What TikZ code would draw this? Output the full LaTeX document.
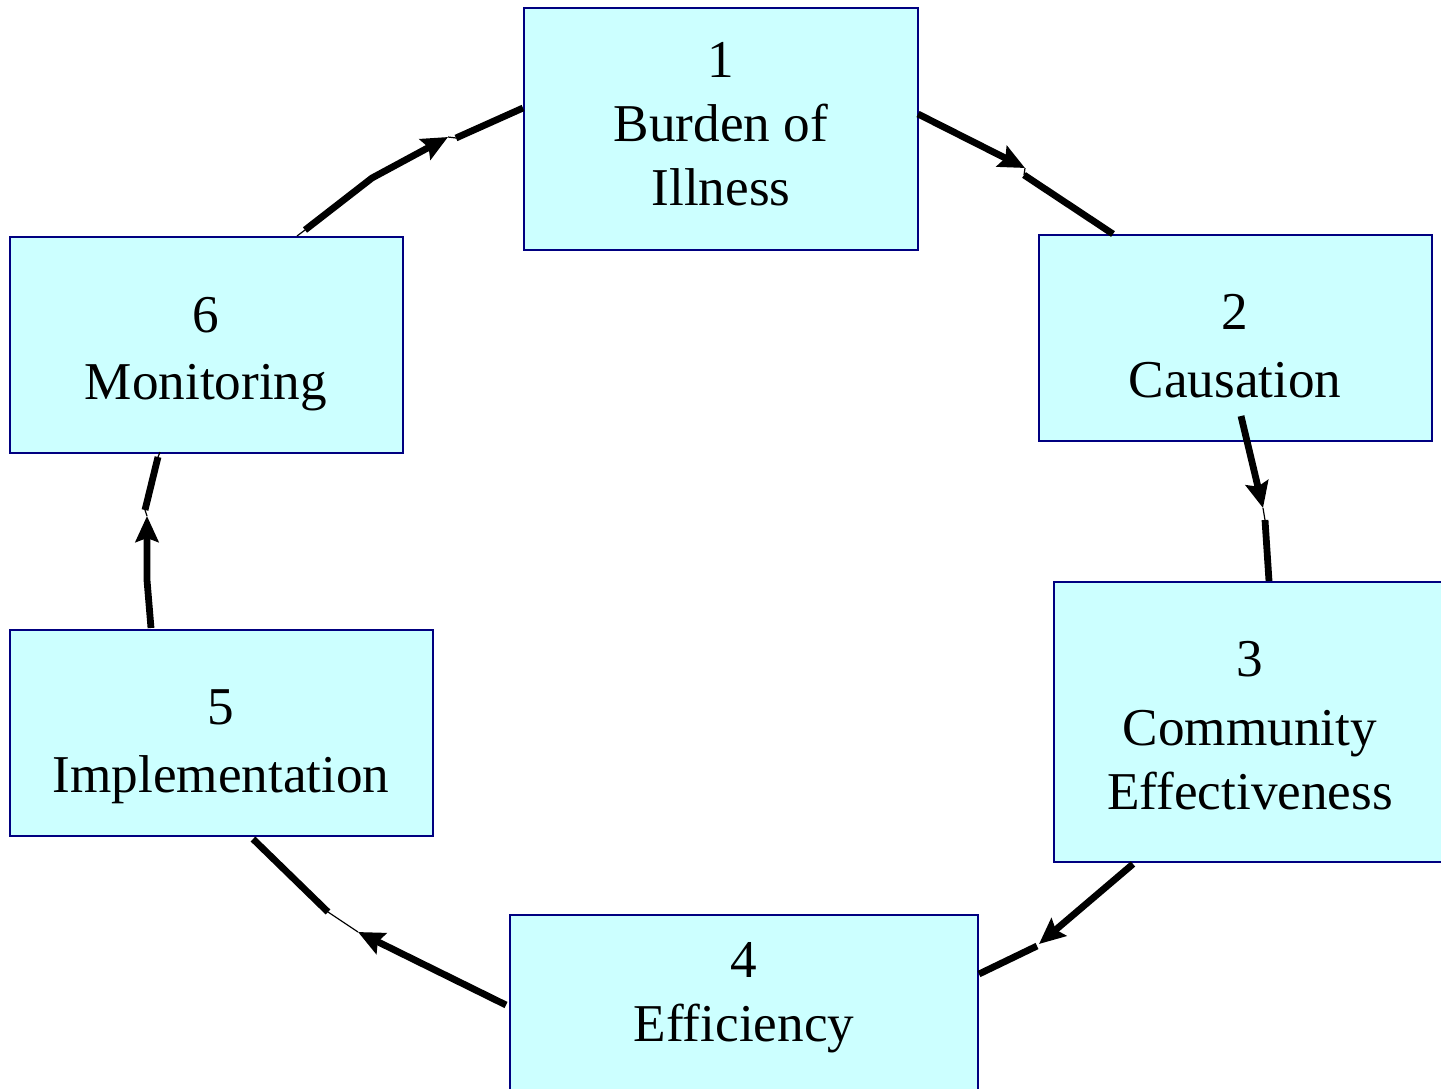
\documentclass[tikz,border=0pt]{standalone}
\usepackage{fontspec}
\setmainfont{Liberation Serif}
\usetikzlibrary{arrows.meta}
\definecolor{boxfill}{HTML}{CCFFFF}
\definecolor{boxline}{HTML}{000080}
\tikzset{
  box/.style={draw=boxline, fill=boxfill, line width=1pt, inner sep=0pt, rectangle},
  lbl/.style={anchor=base, inner sep=0pt, font=\fontsize{26.6}{32}\selectfont},
  flow/.style={line width=3.4pt, -{Stealth[length=13pt,width=11.5pt,inset=2pt]}},
  flowend/.style={line width=3.4pt},
  hair/.style={line width=0.6pt}
}
\begin{document}
\begin{tikzpicture}[x=0.5pt,y=-0.5pt]
\useasboundingbox (0,0) rectangle (1441,1088);
\begin{scope}
\clip (0,0) rectangle (1441,1088);
% boxes
\node[box, minimum width=197pt, minimum height=121pt] (b1) at (721,129) {};
\node[box, minimum width=196.5pt, minimum height=103pt] (b2) at (1235.5,338) {};
\node[box, minimum width=196pt, minimum height=140pt] (b3) at (1250,722) {};
\node[box, minimum width=234pt, minimum height=107.5pt] (b4) at (744,1022.5) {};
\node[box, minimum width=211.5pt, minimum height=103pt] (b5) at (221.5,733) {};
\node[box, minimum width=196.5pt, minimum height=108pt] (b6) at (206.5,345) {};

% labels
\node[lbl] (t1a) at (721,77) {1};
\node[lbl] (t1b) at (721,141) {Burden of};
\node[lbl] (t1c) at (721,205) {Illness};
\node[lbl] (t2a) at (1235,329) {2};
\node[lbl] (t2b) at (1235,397) {Causation};
\node[lbl] (t3a) at (1250,676) {3};
\node[lbl] (t3b) at (1250,745) {Community};
\node[lbl] (t3c) at (1250,809) {Effectiveness};
\node[lbl] (t4a) at (744,977) {4};
\node[lbl] (t4b) at (744,1041) {Efficiency};
\node[lbl] (t5a) at (221,724) {5};
\node[lbl] (t5b) at (221,792) {Implementation};
\node[lbl] (t6a) at (206,332) {6};
\node[lbl] (t6b) at (206,399) {Monitoring};

% connector points
\coordinate (a1s) at (918,114);
\coordinate (a1t) at (1025,168);
\coordinate (a1r) at (1024,175);
\coordinate (a1e) at (1113,234);

\coordinate (a2s) at (1241,416);
\coordinate (a2t) at (1263,508);
\coordinate (a2r) at (1265,520);
\coordinate (a2e) at (1269,581);

\coordinate (a3s) at (1133,864);
\coordinate (a3t) at (1039,944);
\coordinate (a3r) at (1037,946);
\coordinate (a3e) at (979,974);

\coordinate (a4s) at (506,1005);
\coordinate (a4t) at (358,932);
\coordinate (a4r) at (328,912);
\coordinate (a4e) at (253,839);

\coordinate (a5s) at (151,628);
\coordinate (a5m) at (147,580);
\coordinate (a5t) at (147,516);
\coordinate (a5r) at (145,510);
\coordinate (a5e) at (158,457);
\coordinate (a5z) at (160,452);

\coordinate (a6z) at (297,236);
\coordinate (a6s) at (305,230);
\coordinate (a6m) at (372,178);
\coordinate (a6t) at (448,137);
\coordinate (a6r) at (456,138);
\coordinate (a6e) at (523,108);

% connectors
\draw[flow] (a1s) -- (a1t);
\draw[hair] (a1t) -- (a1r);
\draw[flowend] (a1r) -- (a1e);

\draw[flow] (a2s) -- (a2t);
\draw[hair] (a2t) -- (a2r);
\draw[flowend] (a2r) -- (a2e);

\draw[flow] (a3s) -- (a3t);
\draw[flowend] (a3r) -- (a3e);

\draw[flow] (a4s) -- (a4t);
\draw[hair] (a4t) -- (a4r);
\draw[flowend] (a4r) -- (a4e);

\draw[flow] (a5s) -- (a5m) -- (a5t);
\draw[hair] (a5t) -- (a5r);
\draw[flowend] (a5r) -- (a5e);
\draw[hair] (a5e) -- (a5z);

\draw[hair] (a6z) -- (a6s);
\draw[flow] (a6s) -- (a6m) -- (a6t);
\draw[hair] (a6t) -- (a6r);
\draw[flowend] (a6r) -- (a6e);
\end{scope}
\end{tikzpicture}
\end{document}
